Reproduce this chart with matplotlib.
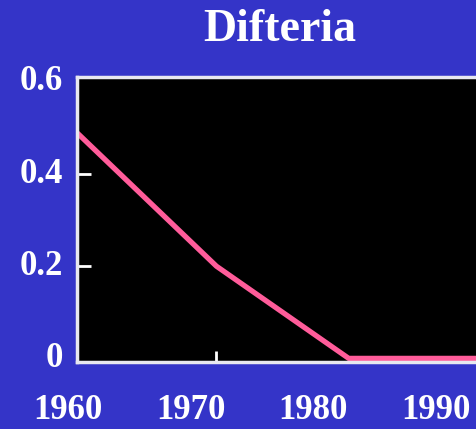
import matplotlib.pyplot as plt
from matplotlib.transforms import blended_transform_factory

# Diphtheria incidence
years = [1960.5, 1971.9, 1982.7, 1994.0]
values = [0.49, 0.20, 0.0, 0.0]

year_labels = ['1960', '1970', '1980', '1990']
year_label_pos = [1960, 1970, 1980, 1990]
y_ticks = [0, 0.2, 0.4, 0.6]
y_tick_labels = ['0', '0.2', '0.4', '0.6']

blue = '#3434c8'
pink = '#ff5c9a'
font = 'Liberation Serif'

fig = plt.figure(figsize=(4.77, 4.29), dpi=100, facecolor=blue)
ax = fig.add_axes([0.161, 0.156, 0.85, 0.664], facecolor='black')

ax.plot(years, values, color=pink, linewidth=3.8, solid_capstyle='butt')

ax.set_xlim(1960.5, 1993.6)
ax.set_ylim(-0.008, 0.61)

for side in ['left', 'bottom', 'top']:
    ax.spines[side].set_color('#e8e8f0')
    ax.spines[side].set_linewidth(2.5)
ax.spines['right'].set_visible(False)

# only a few short inward tick marks
ax.set_xticks([1971.9])
ax.set_xticklabels([])
ax.tick_params(axis='x', direction='in', length=8, width=2, color='white')
ax.set_yticks([0.2, 0.4])
ax.set_yticklabels([])
ax.tick_params(axis='y', direction='in', length=10, width=2, color='white')

# y labels
for v, s in zip(y_ticks, y_tick_labels):
    ax.text(-0.035, v, s, transform=blended_transform_factory(ax.transAxes, ax.transData),
            ha='right', va='center', color='white', fontsize=25,
            fontweight='bold', family=font, clip_on=False)

# year labels below the plot
trans = blended_transform_factory(ax.transData, ax.transAxes)
for x, s in zip(year_label_pos, year_labels):
    ax.text(x - 0.2, -0.17, s, transform=trans, ha='center', va='center',
            color='white', fontsize=25, fontweight='bold', family=font, clip_on=False)

fig.text(0.587, 0.93, 'Difteria', ha='center', va='center', color='white',
         fontsize=33, fontweight='bold', family=font)

fig.savefig('out.png', dpi=100, facecolor=blue)
